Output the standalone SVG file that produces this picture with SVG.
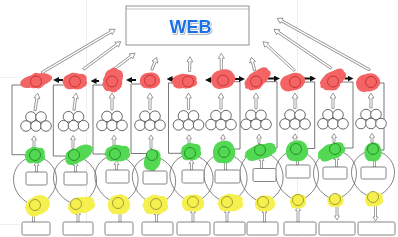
<svg xmlns="http://www.w3.org/2000/svg" xmlns:xlink="http://www.w3.org/1999/xlink" width="398" height="237" viewBox="0 0 398 237">
<defs>
<style>
.ln{fill:none;stroke:#555;stroke-width:0.8}
.arc{fill:none;stroke:#666;stroke-width:0.8}
.ha{fill:#fff;stroke:#777;stroke-width:0.7}
.ba{fill:none;stroke:#111;stroke-width:2;marker-end:url(#ah)}
.box{fill:#fff;stroke:#666;stroke-width:0.8}
.cl{fill:#fff;stroke:#444;stroke-width:0.8}
.rb{fill:#f46464}
.gb{fill:#52d852}
.yb{fill:#f5f04e}
.rc{fill:none;stroke:#c03030;stroke-width:0.9}
.gc{fill:none;stroke:#238a23;stroke-width:0.9}
.yc{fill:none;stroke:#9c9430;stroke-width:0.9}
.grid{stroke:#efefef;stroke-width:1}
</style>
<marker id="ah" viewBox="0 0 6 6" refX="2" refY="3" markerWidth="6" markerHeight="6" markerUnits="userSpaceOnUse" orient="auto"><path d="M0,0L6,3L0,6z" fill="#111"/></marker>
<filter id="sh" x="-20%" y="-20%" width="140%" height="150%"><feDropShadow dx="0.8" dy="1" stdDeviation="0.6" flood-color="#8899aa" flood-opacity="0.8"/></filter>
<path id="b1" d="M-1,0.1C-1.05,-0.5 -0.6,-0.95 -0.1,-0.9C0.3,-1.05 0.8,-0.8 0.9,-0.4C1.1,-0.1 1.05,0.4 0.8,0.6C0.6,0.95 0.1,1 -0.25,0.9C-0.65,1 -1,0.6 -1,0.1Z"/>
<path id="b2" d="M-0.95,-0.2C-1,-0.7 -0.5,-0.8 -0.3,-1C0,-1.1 0.3,-0.85 0.55,-0.9C0.9,-0.85 1.05,-0.45 0.95,-0.15C1.1,0.2 0.95,0.6 0.65,0.7C0.45,1 0.05,0.95 -0.15,0.85C-0.5,1.05 -0.95,0.8 -0.9,0.35C-1.1,0.15 -1.05,-0.05 -0.95,-0.2Z"/>
</defs>
<rect width="398" height="237" fill="#fff"/>
<g id="grid">
<line class="grid" x1="86.5" y1="0" x2="86.5" y2="237"/>
<line class="grid" x1="297.5" y1="0" x2="297.5" y2="237"/>
<line class="grid" x1="0" y1="77.5" x2="20" y2="77.5"/>
<line class="grid" x1="0" y1="224.5" x2="20" y2="224.5"/>
</g>
<g id="web">
<rect x="126" y="6" width="123" height="39" fill="#fff" stroke="#777" stroke-width="0.8"/>
<line x1="126" y1="9" x2="249" y2="9" stroke="#999" stroke-width="0.6"/>
<text x="190.5" y="33" font-family="Liberation Sans, Arial, sans-serif" font-weight="bold" font-size="18" fill="#1a6fe6" stroke="#fff" stroke-width="1.5" paint-order="stroke" filter="url(#sh)" text-anchor="middle">WEB</text>
</g>
<g id="connectors">
<path class="ln" d="M31.8,85H12V154.7H29.5"/>
<path class="ln" d="M70.8,85H53.3V156H68.5"/>
<path class="ln" d="M107.8,85H93V154H109.5"/>
<path class="ln" d="M145,84H131V153.5H146.6"/>
<path class="ln" d="M183,83H168.5V153.3H184.5"/>
<path class="ln" d="M228,81.7H240V149H228.5"/>
<path class="ln" d="M261.5,81.7H277V148H264.5"/>
<path class="ln" d="M300.5,82H314.7V148.5H300.8"/>
<path class="ln" d="M338.5,82H353V148H339.8"/>
<path class="ln" d="M376.5,83H384V150H378.5"/>
<path class="arc" d="M30,157C8,165 8,193 30,204"/><path class="arc" d="M40,204C62,193 62,165 40,157"/>
<path class="arc" d="M69,157C47,165 49,192 71,203"/><path class="arc" d="M81,203C103,192 101,165 79,157"/>
<path class="arc" d="M110,156C88,164 91,191 113,202"/><path class="arc" d="M123,202C145,191 142,164 120,156"/>
<path class="arc" d="M147,157C125,165 129,192 151,203"/><path class="arc" d="M161,203C183,192 179,165 157,157"/>
<path class="arc" d="M185,155C163,163 166,190 188,201"/><path class="arc" d="M198,201C220,190 217,163 195,155"/>
<path class="arc" d="M219,154C197,162 200,190 222,201"/><path class="arc" d="M232,201C254,190 251,162 229,154"/>
<path class="arc" d="M255,152C233,160 236,190 258,201"/><path class="arc" d="M268,201C290,190 287,160 265,152"/>
<path class="arc" d="M291,151C269,159 271,188 293,199"/><path class="arc" d="M303,199C325,188 323,159 301,151"/>
<path class="arc" d="M330,151C308,159 308,187 330,198"/><path class="arc" d="M340,198C362,187 362,159 340,151"/>
<path class="arc" d="M368,151C346,159 346,185 368,196"/><path class="arc" d="M378,196C400,185 400,159 378,151"/>
<path class="ba" d="M63,80H57"/>
<path class="ba" d="M99,81H94.5"/>
<path class="ba" d="M136,80H130"/>
<path class="ba" d="M177,79H170.5"/>
<path class="ba" d="M213,80H209"/>
<path class="ba" d="M233,79H241"/>
<path class="ba" d="M268,78.5H276"/>
<path class="ba" d="M304,78.5H312"/>
<path class="ba" d="M344.5,78.5H349.5"/>
<path class="ha" transform="translate(41.7,72.7) rotate(-30.6)" d="M0,-1.1H80.2V-3L85.2,0L80.2,3V1.1H0Z"/>
<path class="ha" transform="translate(83.3,69.3) rotate(-36.4)" d="M0,-1.1H41.5V-3L46.5,0L41.5,3V1.1H0Z"/>
<path class="ha" transform="translate(115,68.3) rotate(-36.9)" d="M0,-1.1H20V-3L25,0L20,3V1.1H0Z"/>
<path class="ha" transform="translate(151.7,70) rotate(-68.5)" d="M0,-1.1H8.6V-3L13.6,0L8.6,3V1.1H0Z"/>
<path class="ha" transform="translate(189.5,71.5) rotate(-88)" d="M0,-1.1H9.8V-3L14.8,0L9.8,3V1.1H0Z"/>
<path class="ha" transform="translate(221.3,70) rotate(-90)" d="M0,-1.1H11.7V-3L16.7,0L11.7,3V1.1H0Z"/>
<path class="ha" transform="translate(254.7,70.7) rotate(-104.2)" d="M0,-1.1H8.8V-3L13.8,0L8.8,3V1.1H0Z"/>
<path class="ha" transform="translate(294.7,70.7) rotate(-137.5)" d="M0,-1.1H38V-3L43,0L38,3V1.1H0Z"/>
<path class="ha" transform="translate(331.3,68.3) rotate(-145.8)" d="M0,-1.1H64.3V-3L69.3,0L64.3,3V1.1H0Z"/>
<path class="ha" transform="translate(369.7,70) rotate(-150.8)" d="M0,-1.1H100.9V-3L105.9,0L100.9,3V1.1H0Z"/>
<path class="ha" transform="rotate(9 35 110.5)" d="M33.9,110.5V98H32L35,93L38,98H36.1V110.5Z"/>
<path class="ha" transform="rotate(7 74 110.2)" d="M72.9,110.2V98H71L74,93L77,98H75.1V110.2Z"/>
<path class="ha" d="M110.9,109.9V98H109L112,93L115,98H113.1V109.9Z"/>
<path class="ha" d="M148.9,109.7V98H147L150,93L153,98H151.1V109.7Z"/>
<path class="ha" d="M187.4,109.4V98H185.5L188.5,93L191.5,98H189.6V109.4Z"/>
<path class="ha" d="M219.9,109.1V98H218L221,93L224,98H222.1V109.1Z"/>
<path class="ha" d="M254.9,108.8V98H253L256,93L259,98H257.1V108.8Z"/>
<path class="ha" d="M293.9,108.5V98H292L295,93L298,98H296.1V108.5Z"/>
<path class="ha" d="M331.9,108.3V98H330L333,93L336,98H334.1V108.3Z"/>
<path class="ha" d="M369.9,108V98H368L371,93L374,98H372.1V108Z"/>
<path class="ha" d="M33,148.5V139.8H31.5L34,135.8L36.5,139.8H35V148.5Z"/>
<path class="ha" d="M72,148.5V139.5H70.5L73,135.5L75.5,139.5H74V148.5Z"/>
<path class="ha" d="M113,147.5V139.2H111.5L114,135.2L116.5,139.2H115V147.5Z"/>
<path class="ha" d="M150,148.5V139H148.5L151,135L153.5,139H152V148.5Z"/>
<path class="ha" d="M188,146.5V138.7H186.5L189,134.7L191.5,138.7H190V146.5Z"/>
<path class="ha" d="M222,145.5V138.4H220.5L223,134.4L225.5,138.4H224V145.5Z"/>
<path class="ha" d="M258,143.5V138.1H256.5L259,134.1L261.5,138.1H260V143.5Z"/>
<path class="ha" d="M294,142.5V137.8H292.5L295,133.8L297.5,137.8H296V142.5Z"/>
<path class="ha" d="M333,142.5V137.6H331.5L334,133.6L336.5,137.6H335V142.5Z"/>
<path class="ha" d="M371,142.5V137.3H369.5L372,133.3L374.5,137.3H373V142.5Z"/>
<path class="ha" d="M35.5,172V165.5H34L36.5,161.5L39,165.5H37.5V172Z"/>
<path class="ha" d="M74.5,172V165.5H73L75.5,161.5L78,165.5H76.5V172Z"/>
<path class="ha" d="M115.5,170V164.5H114L116.5,160.5L119,164.5H117.5V170Z"/>
<path class="ha" d="M152.5,171V165.5H151L153.5,161.5L156,165.5H154.5V171Z"/>
<path class="ha" d="M190.5,170V163.5H189L191.5,159.5L194,163.5H192.5V170Z"/>
<path class="ha" d="M224.5,170V162.5H223L225.5,158.5L228,162.5H226.5V170Z"/>
<path class="ha" d="M260.5,168.5V160.5H259L261.5,156.5L264,160.5H262.5V168.5Z"/>
<path class="ha" d="M296.5,165V159.5H295L297.5,155.5L300,159.5H298.5V165Z"/>
<path class="ha" d="M335.5,167V159.5H334L336.5,155.5L339,159.5H337.5V167Z"/>
<path class="ha" d="M373.5,167V159.5H372L374.5,155.5L377,159.5H375.5V167Z"/>
<path class="ha" d="M32.5,222V215.5H31L33.5,211.5L36,215.5H34.5V222Z"/>
<path class="ha" d="M77,222V214.5H75.5L78,210.5L80.5,214.5H79V222Z"/>
<path class="ha" d="M119,222V213.5H117.5L120,209.5L122.5,213.5H121V222Z"/>
<path class="ha" d="M155.5,222V214.5H154L156.5,210.5L159,214.5H157.5V222Z"/>
<path class="ha" d="M192,222V212.5H190.5L193,208.5L195.5,212.5H194V222Z"/>
<path class="ha" d="M226,222V212.5H224.5L227,208.5L229.5,212.5H228V222Z"/>
<path class="ha" d="M263.5,222V212.5H262L264.5,208.5L267,212.5H265.5V222Z"/>
<path class="ha" d="M297,222V210.5H295.5L298,206.5L300.5,210.5H299V222Z"/>
<path class="ha" d="M336,206V216H334.5L337,220L339.5,216H338V206Z"/>
<path class="ha" d="M374.5,204.5V217H373L375.5,221L378,217H376.5V204.5Z"/>
</g>
<g id="red1"><use href="#b1" class="rb" transform="translate(36,80.5) rotate(-12) scale(16,6.5)"/><use href="#b2" class="rb" transform="translate(37,81) scale(8,8)"/><circle class="rc" cx="36" cy="81.5" r="5.5"/></g>
<g id="red2"><use href="#b2" class="rb" transform="translate(75,81.5) scale(12,8.5)"/><circle class="rc" cx="75" cy="81.5" r="5.5"/></g>
<g id="red3"><use href="#b2" class="rb" transform="translate(113,80.5) rotate(10) scale(9.5,12.5)"/><use href="#b1" class="rb" transform="translate(110,86) rotate(30) scale(8,5)"/><circle class="rc" cx="112" cy="81.5" r="5.5"/></g>
<g id="red4"><use href="#b1" class="rb" transform="translate(150,80.5) scale(10,8.5)"/><circle class="rc" cx="150" cy="80.5" r="5.5"/></g>
<g id="red5"><use href="#b2" class="rb" transform="translate(184.5,81.5) scale(12.5,7.5)"/><circle class="rc" cx="188" cy="81.5" r="5.5"/></g>
<g id="red6"><use href="#b1" class="rb" transform="translate(223,79) rotate(-10) scale(12,10)"/><circle class="rc" cx="223" cy="80.5" r="5.5"/></g>
<g id="red7"><use href="#b2" class="rb" transform="translate(257.5,79) rotate(-35) scale(14.5,8)"/><use href="#b1" class="rb" transform="translate(255,82) scale(8,8)"/><circle class="rc" cx="256" cy="81.5" r="5.5"/></g>
<g id="red8"><use href="#b1" class="rb" transform="translate(292.5,82) rotate(-15) scale(12.5,9)"/><circle class="rc" cx="295" cy="82" r="5.5"/></g>
<g id="red9"><use href="#b2" class="rb" transform="translate(333,79.5) rotate(-30) scale(14,8)"/><use href="#b1" class="rb" transform="translate(332,83) scale(8,8)"/><circle class="rc" cx="333" cy="81.5" r="5.5"/></g>
<g id="red10"><use href="#b1" class="rb" transform="translate(368,82.5) rotate(-10) scale(12,9.5)"/><circle class="rc" cx="371" cy="82" r="5.5"/></g>
<g id="cluster1"><circle class="cl" cx="31" cy="117" r="5.3"/><circle class="cl" cx="41" cy="117" r="5.3"/><circle class="cl" cx="26" cy="126" r="5.3"/><circle class="cl" cx="36" cy="126" r="5.3"/><circle class="cl" cx="46" cy="126" r="5.3"/></g>
<g id="cluster2"><circle class="cl" cx="68.5" cy="116.7" r="5.3"/><circle class="cl" cx="78.5" cy="116.7" r="5.3"/><circle class="cl" cx="63.5" cy="125.7" r="5.3"/><circle class="cl" cx="73.5" cy="125.7" r="5.3"/><circle class="cl" cx="83.5" cy="125.7" r="5.3"/></g>
<g id="cluster3"><circle class="cl" cx="107" cy="116.4" r="5.3"/><circle class="cl" cx="117" cy="116.4" r="5.3"/><circle class="cl" cx="102" cy="125.4" r="5.3"/><circle class="cl" cx="112" cy="125.4" r="5.3"/><circle class="cl" cx="122" cy="125.4" r="5.3"/></g>
<g id="cluster4"><circle class="cl" cx="145" cy="116.2" r="5.3"/><circle class="cl" cx="155" cy="116.2" r="5.3"/><circle class="cl" cx="140" cy="125.2" r="5.3"/><circle class="cl" cx="150" cy="125.2" r="5.3"/><circle class="cl" cx="160" cy="125.2" r="5.3"/></g>
<g id="cluster5"><circle class="cl" cx="183.5" cy="115.9" r="5.3"/><circle class="cl" cx="193.5" cy="115.9" r="5.3"/><circle class="cl" cx="178.5" cy="124.9" r="5.3"/><circle class="cl" cx="188.5" cy="124.9" r="5.3"/><circle class="cl" cx="198.5" cy="124.9" r="5.3"/></g>
<g id="cluster6"><circle class="cl" cx="216" cy="115.6" r="5.3"/><circle class="cl" cx="226" cy="115.6" r="5.3"/><circle class="cl" cx="211" cy="124.6" r="5.3"/><circle class="cl" cx="221" cy="124.6" r="5.3"/><circle class="cl" cx="231" cy="124.6" r="5.3"/></g>
<g id="cluster7"><circle class="cl" cx="251" cy="115.3" r="5.3"/><circle class="cl" cx="261" cy="115.3" r="5.3"/><circle class="cl" cx="246" cy="124.3" r="5.3"/><circle class="cl" cx="256" cy="124.3" r="5.3"/><circle class="cl" cx="266" cy="124.3" r="5.3"/></g>
<g id="cluster8"><circle class="cl" cx="290" cy="115" r="5.3"/><circle class="cl" cx="300" cy="115" r="5.3"/><circle class="cl" cx="285" cy="124" r="5.3"/><circle class="cl" cx="295" cy="124" r="5.3"/><circle class="cl" cx="305" cy="124" r="5.3"/></g>
<g id="cluster9"><circle class="cl" cx="328" cy="114.8" r="5.3"/><circle class="cl" cx="338" cy="114.8" r="5.3"/><circle class="cl" cx="323" cy="123.8" r="5.3"/><circle class="cl" cx="333" cy="123.8" r="5.3"/><circle class="cl" cx="343" cy="123.8" r="5.3"/></g>
<g id="cluster10"><circle class="cl" cx="366" cy="114.5" r="5.3"/><circle class="cl" cx="376" cy="114.5" r="5.3"/><circle class="cl" cx="361" cy="123.5" r="5.3"/><circle class="cl" cx="371" cy="123.5" r="5.3"/><circle class="cl" cx="381" cy="123.5" r="5.3"/></g>
<g id="green1"><use href="#b2" class="gb" transform="translate(35,155.5) scale(10,8.5)"/><circle class="gc" cx="35" cy="155" r="5.5"/></g>
<g id="green2"><use href="#b1" class="gb" transform="translate(79,154.5) rotate(-30) scale(15,7.5)"/><use href="#b2" class="gb" transform="translate(73,157) scale(7.5,7.5)"/><circle class="gc" cx="74" cy="155" r="5.5"/></g>
<g id="green3"><use href="#b2" class="gb" transform="translate(117.5,153.5) scale(12.5,8.5)"/><circle class="gc" cx="115" cy="154" r="5.5"/></g>
<g id="green4"><use href="#b1" class="gb" transform="translate(152.5,160) rotate(15) scale(8,11.5)"/><circle class="gc" cx="152" cy="155" r="5.5"/></g>
<g id="green5"><use href="#b2" class="gb" transform="translate(191,152) scale(10,9)"/><circle class="gc" cx="190" cy="153" r="5.5"/></g>
<g id="green6"><use href="#b1" class="gb" transform="translate(224,152) scale(11,12)"/><circle class="gc" cx="224" cy="152" r="5.5"/></g>
<g id="green7"><use href="#b2" class="gb" transform="translate(260.5,152) rotate(-15) scale(16,7.5)"/><circle class="gc" cx="260" cy="150" r="5.5"/></g>
<g id="green8"><use href="#b1" class="gb" transform="translate(297,151) scale(11,11)"/><circle class="gc" cx="296" cy="149" r="5.5"/></g>
<g id="green9"><use href="#b2" class="gb" transform="translate(331.5,152) rotate(-20) scale(14,8)"/><circle class="gc" cx="335" cy="149" r="5.5"/></g>
<g id="green10"><use href="#b1" class="gb" transform="translate(373,152) scale(8.5,10)"/><circle class="gc" cx="373" cy="149" r="5.5"/></g>
<g id="rect1"><rect class="box" x="26" y="172" width="21" height="13" rx="1.5"/></g>
<g id="rect2"><rect class="box" x="64" y="172" width="23" height="13" rx="1.5"/></g>
<g id="rect3"><rect class="box" x="106" y="170" width="23" height="13" rx="1.5"/></g>
<g id="rect4"><rect class="box" x="143" y="171" width="24" height="13" rx="1.5"/></g>
<g id="rect5"><rect class="box" x="182" y="170" width="22" height="13" rx="1.5"/></g>
<g id="rect6"><rect class="box" x="215" y="170" width="25" height="13" rx="1.5"/></g>
<g id="rect7"><rect class="box" x="253" y="168.5" width="23" height="13" rx="1.5"/></g>
<g id="rect8"><rect class="box" x="286" y="165" width="24" height="13" rx="1.5"/></g>
<g id="rect9"><rect class="box" x="323" y="167" width="24" height="12" rx="1.5"/></g>
<g id="rect10"><rect class="box" x="361" y="167" width="25" height="12" rx="1.5"/></g>
<g id="yellow1"><use href="#b1" class="yb" transform="translate(37.5,205.5) rotate(-25) scale(12.5,10)"/><circle class="yc" cx="35" cy="205" r="5.5"/></g>
<g id="yellow2"><use href="#b2" class="yb" transform="translate(81.5,205.5) rotate(-10) scale(13.5,8.5)"/><circle class="yc" cx="76" cy="204" r="5.5"/></g>
<g id="yellow3"><use href="#b1" class="yb" transform="translate(119,204.5) scale(11,10.5)"/><circle class="yc" cx="118" cy="203" r="5.5"/></g>
<g id="yellow4"><use href="#b2" class="yb" transform="translate(155.5,205) scale(12.5,10)"/><circle class="yc" cx="156" cy="204" r="5.5"/></g>
<g id="yellow5"><use href="#b1" class="yb" transform="translate(193,203) scale(11,9)"/><circle class="yc" cx="193" cy="202" r="5.5"/></g>
<g id="yellow6"><use href="#b2" class="yb" transform="translate(230.5,203) scale(12.5,9)"/><circle class="yc" cx="227" cy="202" r="5.5"/></g>
<g id="yellow7"><use href="#b1" class="yb" transform="translate(265,203.5) scale(10,8.5)"/><circle class="yc" cx="263" cy="202" r="5.5"/></g>
<g id="yellow8"><use href="#b2" class="yb" transform="translate(298,201.5) scale(8,7.5)"/><circle class="yc" cx="298" cy="200" r="5.5"/></g>
<g id="yellow9"><use href="#b1" class="yb" transform="translate(335.5,200.5) scale(8,7)"/><circle class="yc" cx="335" cy="199" r="5.5"/></g>
<g id="yellow10"><use href="#b2" class="yb" transform="translate(374,199.5) scale(9,7.5)"/><circle class="yc" cx="373" cy="197" r="5.5"/></g>
<g id="bottom1"><rect class="box" x="22" y="222" width="28" height="13" rx="1.5"/></g>
<g id="bottom2"><rect class="box" x="63" y="222" width="30" height="13" rx="1.5"/></g>
<g id="bottom3"><rect class="box" x="105" y="222" width="28" height="13" rx="1.5"/></g>
<g id="bottom4"><rect class="box" x="142" y="222" width="31" height="13" rx="1.5"/></g>
<g id="bottom5"><rect class="box" x="177" y="222" width="33" height="13" rx="1.5"/></g>
<g id="bottom6"><rect class="box" x="214" y="222" width="31" height="13" rx="1.5"/></g>
<g id="bottom7"><rect class="box" x="247" y="222" width="31" height="13" rx="1.5"/></g>
<g id="bottom8"><rect class="box" x="284" y="222" width="32" height="13" rx="1.5"/></g>
<g id="bottom9"><rect class="box" x="319" y="222" width="36" height="13" rx="1.5"/></g>
<g id="bottom10"><rect class="box" x="358" y="222" width="37" height="13" rx="1.5"/></g>
</svg>
